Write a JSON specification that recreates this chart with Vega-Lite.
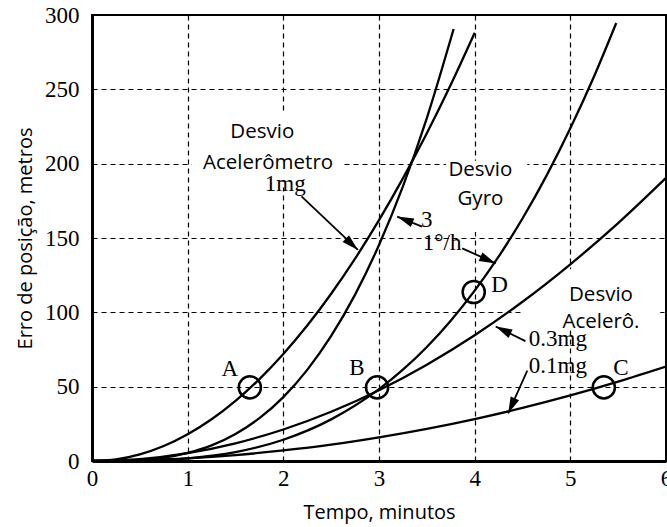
{
  "$schema": "https://vega.github.io/schema/vega-lite/v6.json",
  "width": 574,
  "height": 446,
  "autosize": "none",
  "padding": {"left": 92, "top": 15, "right": 1, "bottom": 66},
  "background": "white",
  "datasets": {
    "curves": [
      {"s": "1mg", "t": 0, "v": 0}, {"s": "1mg", "t": 0.25, "v": 1.1}, {"s": "1mg", "t": 0.5, "v": 4.5}, {"s": "1mg", "t": 0.75, "v": 10.1}, {"s": "1mg", "t": 1, "v": 18}, {"s": "1mg", "t": 1.25, "v": 28.1}, {"s": "1mg", "t": 1.5, "v": 40.5}, {"s": "1mg", "t": 1.75, "v": 55.1}, {"s": "1mg", "t": 2, "v": 72}, {"s": "1mg", "t": 2.25, "v": 91.1}, {"s": "1mg", "t": 2.5, "v": 112.5}, {"s": "1mg", "t": 2.75, "v": 136.1}, {"s": "1mg", "t": 3, "v": 162}, {"s": "1mg", "t": 3.25, "v": 190.1}, {"s": "1mg", "t": 3.5, "v": 220.5}, {"s": "1mg", "t": 3.75, "v": 253.1}, {"s": "1mg", "t": 4.0, "v": 288},
      {"s": "3dh", "t": 0, "v": 0}, {"s": "3dh", "t": 0.5, "v": 0.7}, {"s": "3dh", "t": 1, "v": 5.4}, {"s": "3dh", "t": 1.25, "v": 10.5}, {"s": "3dh", "t": 1.5, "v": 18.2}, {"s": "3dh", "t": 1.75, "v": 28.8}, {"s": "3dh", "t": 2, "v": 43}, {"s": "3dh", "t": 2.25, "v": 61.3}, {"s": "3dh", "t": 2.5, "v": 84.1}, {"s": "3dh", "t": 2.75, "v": 111.9}, {"s": "3dh", "t": 3, "v": 145.3}, {"s": "3dh", "t": 3.25, "v": 184.7}, {"s": "3dh", "t": 3.5, "v": 230.7}, {"s": "3dh", "t": 3.78, "v": 290.6},
      {"s": "1dh", "t": 0, "v": 0}, {"s": "1dh", "t": 0.5, "v": 0.2}, {"s": "1dh", "t": 1, "v": 1.8}, {"s": "1dh", "t": 1.5, "v": 6.0}, {"s": "1dh", "t": 2, "v": 14.3}, {"s": "1dh", "t": 2.5, "v": 28}, {"s": "1dh", "t": 3, "v": 48.3}, {"s": "1dh", "t": 3.25, "v": 61.4}, {"s": "1dh", "t": 3.5, "v": 76.7}, {"s": "1dh", "t": 3.75, "v": 94.4}, {"s": "1dh", "t": 4, "v": 114.6}, {"s": "1dh", "t": 4.25, "v": 137.4}, {"s": "1dh", "t": 4.5, "v": 163.1}, {"s": "1dh", "t": 4.75, "v": 191.8}, {"s": "1dh", "t": 5, "v": 223.8}, {"s": "1dh", "t": 5.25, "v": 259}, {"s": "1dh", "t": 5.48, "v": 294.6},
      {"s": "03mg", "t": 0, "v": 0}, {"s": "03mg", "t": 0.5, "v": 1.3}, {"s": "03mg", "t": 1, "v": 5.3}, {"s": "03mg", "t": 1.5, "v": 11.9}, {"s": "03mg", "t": 2, "v": 21.2}, {"s": "03mg", "t": 2.5, "v": 33.1}, {"s": "03mg", "t": 3, "v": 47.6}, {"s": "03mg", "t": 3.5, "v": 64.8}, {"s": "03mg", "t": 4, "v": 84.6}, {"s": "03mg", "t": 4.5, "v": 107.1}, {"s": "03mg", "t": 5, "v": 132.3}, {"s": "03mg", "t": 5.5, "v": 160}, {"s": "03mg", "t": 6, "v": 190.4},
      {"s": "01mg", "t": 0, "v": 0}, {"s": "01mg", "t": 1, "v": 1.8}, {"s": "01mg", "t": 1.5, "v": 4}, {"s": "01mg", "t": 2, "v": 7.1}, {"s": "01mg", "t": 2.5, "v": 11}, {"s": "01mg", "t": 3, "v": 15.9}, {"s": "01mg", "t": 3.5, "v": 21.6}, {"s": "01mg", "t": 4, "v": 28.2}, {"s": "01mg", "t": 4.5, "v": 35.7}, {"s": "01mg", "t": 5, "v": 44.1}, {"s": "01mg", "t": 5.5, "v": 53.4}, {"s": "01mg", "t": 6, "v": 63.5}
    ],
    "boxes": [
      {"t": 1.04, "t2": 2.62, "v": 184, "v2": 234},
      {"t": 3.70, "t2": 4.55, "v": 154, "v2": 202},
      {"t": 4.51, "t2": 5.94, "v": 88, "v2": 129}
    ],
    "circles": [
      {"p": "A", "t": 1.65, "v": 49.5},
      {"p": "B", "t": 2.98, "v": 49.5},
      {"p": "C", "t": 5.35, "v": 49.5},
      {"p": "D", "t": 3.99, "v": 113.7}
    ],
    "serif": [
      {"txt": "A", "t": 1.44, "v": 62},
      {"txt": "B", "t": 2.77, "v": 62.6},
      {"txt": "C", "t": 5.53, "v": 62.6},
      {"txt": "D", "t": 4.26, "v": 118.2},
      {"txt": "1mg", "t": 2.02, "v": 186.5},
      {"txt": "3", "t": 3.50, "v": 162},
      {"txt": "1°/h", "t": 3.66, "v": 146.4},
      {"txt": "0.3mg", "t": 4.87, "v": 82.2},
      {"txt": "0.1mg", "t": 4.87, "v": 64.2}
    ],
    "sans": [
      {"txt": "Desvio", "t": 1.78, "v": 221},
      {"txt": "Acelerômetro", "t": 1.84, "v": 200.7},
      {"txt": "Desvio", "t": 4.06, "v": 195.5},
      {"txt": "Gyro", "t": 4.06, "v": 176.1},
      {"txt": "Desvio", "t": 5.32, "v": 111.5},
      {"txt": "Acelerô.", "t": 5.32, "v": 93.5}
    ],
    "arrows": [
      {"t": 2.19, "v": 178, "t2": 2.78, "v2": 142, "ang": 133},
      {"t": 3.45, "v": 157.6, "t2": 3.19, "v2": 164.4, "ang": 292},
      {"t": 3.87, "v": 143, "t2": 4.22, "v2": 132.9, "ang": 114},
      {"t": 4.53, "v": 80.6, "t2": 4.22, "v2": 90.5, "ang": 296},
      {"t": 4.55, "v": 60.8, "t2": 4.35, "v2": 32.0, "ang": 204}
    ]
  },
  "layer": [
    {
      "data": {"name": "boxes"},
      "mark": {"type": "rect", "color": "white"},
      "encoding": {
        "x": {"field": "t", "type": "quantitative", "scale": {"domain": [0, 6], "nice": false, "zero": false},
          "axis": {"values": [0, 1, 2, 3, 4, 5, 6], "format": "d", "title": "Tempo, minutos", "tickSize": 0, "labelPadding": 6, "titlePadding": 12, "labelFlush": false}},
        "y": {"field": "v", "type": "quantitative", "scale": {"domain": [0, 300], "nice": false},
          "axis": {"values": [0, 50, 100, 150, 200, 250, 300], "format": "d", "title": "Erro de posição, metros", "tickSize": 0, "labelPadding": 13, "titlePadding": 9}},
        "x2": {"field": "t2"},
        "y2": {"field": "v2"}
      }
    },
    {
      "data": {"name": "curves"},
      "mark": {"type": "line", "color": "black", "strokeWidth": 2.3, "interpolate": "monotone", "clip": true},
      "encoding": {
        "x": {"field": "t", "type": "quantitative"},
        "y": {"field": "v", "type": "quantitative"},
        "detail": {"field": "s"}
      }
    },
    {
      "data": {"name": "arrows"},
      "mark": {"type": "rule", "color": "black", "strokeWidth": 1.8},
      "encoding": {
        "x": {"field": "t", "type": "quantitative"},
        "y": {"field": "v", "type": "quantitative"},
        "x2": {"field": "t2"},
        "y2": {"field": "v2"}
      }
    },
    {
      "data": {"name": "arrows"},
      "mark": {"type": "point", "shape": "M0,0L-0.28,1L0.28,1Z", "filled": true, "color": "black", "opacity": 1, "size": 1100},
      "encoding": {
        "x": {"field": "t2", "type": "quantitative"},
        "y": {"field": "v2", "type": "quantitative"},
        "angle": {"field": "ang", "type": "quantitative", "scale": null}
      }
    },
    {
      "data": {"name": "circles"},
      "mark": {"type": "point", "shape": "circle", "filled": false, "color": "black", "strokeWidth": 2.5, "size": 490, "opacity": 1},
      "encoding": {
        "x": {"field": "t", "type": "quantitative"},
        "y": {"field": "v", "type": "quantitative"}
      }
    },
    {
      "data": {"name": "serif"},
      "mark": {"type": "text", "font": "Liberation Serif", "fontSize": 23, "color": "black", "align": "center", "baseline": "middle"},
      "encoding": {
        "x": {"field": "t", "type": "quantitative"},
        "y": {"field": "v", "type": "quantitative"},
        "text": {"field": "txt"}
      }
    },
    {
      "data": {"name": "sans"},
      "mark": {"type": "text", "font": "Open Sans", "fontSize": 20.5, "color": "black", "align": "center", "baseline": "middle"},
      "encoding": {
        "x": {"field": "t", "type": "quantitative"},
        "y": {"field": "v", "type": "quantitative"},
        "text": {"field": "txt"}
      }
    }
  ],
  "config": {
    "view": {"stroke": "black", "strokeWidth": 2},
    "axis": {
      "grid": true, "gridColor": "black", "gridDash": [5, 4], "gridWidth": 1.2, "gridOpacity": 1,
      "domainColor": "black", "domainWidth": 3, "tickColor": "black", "tickWidth": 1.5,
      "labelFont": "Liberation Serif", "labelFontSize": 23, "labelColor": "black",
      "titleFont": "Open Sans", "titleFontSize": 20, "titleFontWeight": "normal", "titleColor": "black"
    }
  }
}
